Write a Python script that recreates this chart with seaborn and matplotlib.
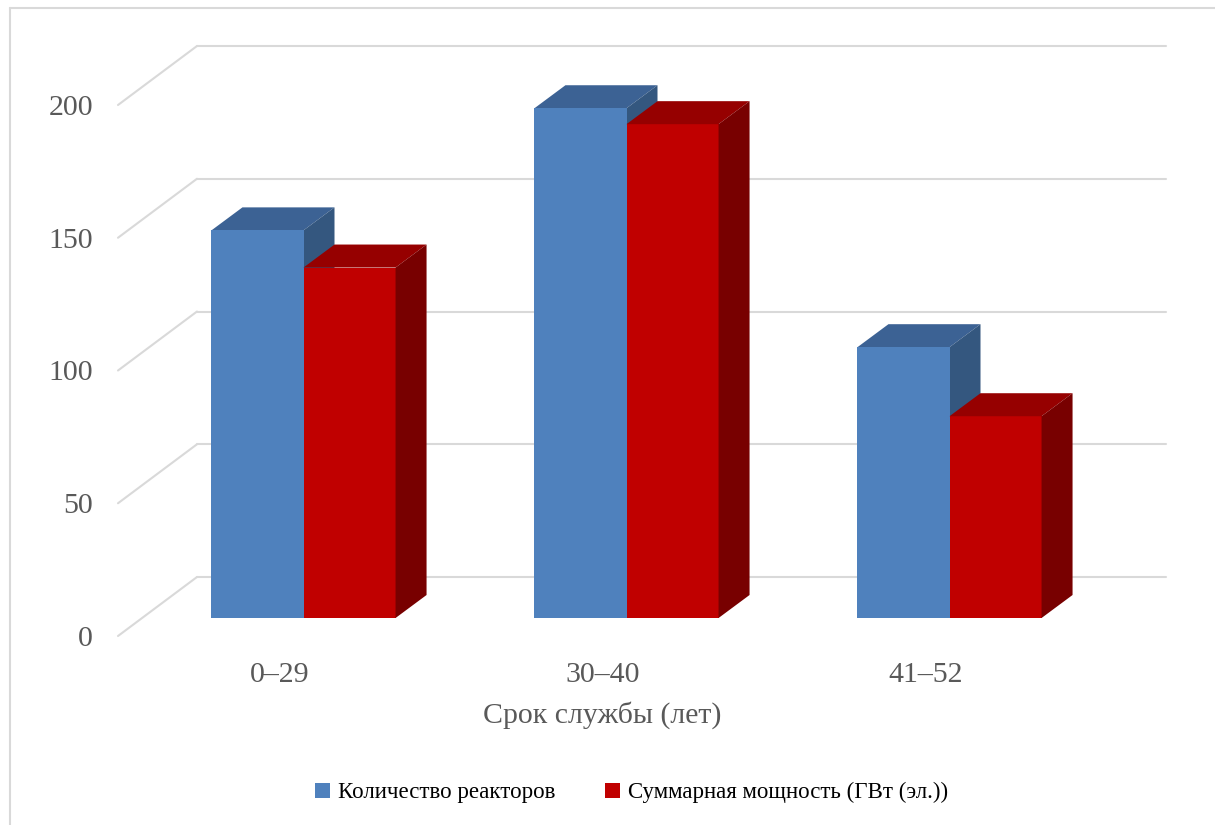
import pandas as pd
import matplotlib
matplotlib.use("Agg")
import matplotlib.pyplot as plt
import matplotlib.transforms as mtransforms
from matplotlib.patches import Polygon, Patch
from matplotlib.lines import Line2D
import seaborn as sns

# data
categories = ["0–29", "30–40", "41–52"]
reactors = [146, 192, 102]
power = [132, 186, 76]
series_names = ["Количество реакторов", "Суммарная мощность (ГВт (эл.))"]
yticks = [0, 50, 100, 150, 200]

colors_front = ["#4f81bd", "#c00000"]
colors_top = ["#3c6294", "#960000"]
colors_side = ["#34577f", "#780000"]

df = pd.DataFrame({
    "cat": categories * 2,
    "val": reactors + power,
    "series": [series_names[0]] * len(categories) + [series_names[1]] * len(categories),
})

sns.set_theme(style="white")
plt.rcParams["font.family"] = ["Liberation Serif", "DejaVu Serif"]

W, H = 1215, 825
fig = plt.figure(figsize=(W / 100, H / 100), dpi=100)
# axes = front plane of the 3d floor
ax = fig.add_axes([118 / W, 1 - 636 / H, 969 / W, 531 / H])

sns.barplot(data=df, x="cat", y="val", hue="series", palette=colors_front,
            width=0.57, saturation=1, errorbar=None, legend=False,
            linewidth=0, ax=ax)

ax.set_xlim(-0.5, 2.5)
ax.set_ylim(0, 200)
ax.set_autoscale_on(False)

# pixel offsets of the fake 3d
to_bars = (24, 18)   # front plane -> bar front faces
depth = (31, 23)     # bar depth
to_back = (79, 59)   # front plane -> back wall

bar_tr = mtransforms.offset_copy(ax.transData, fig=fig, x=to_bars[0], y=to_bars[1], units="dots")
back_tr = mtransforms.offset_copy(ax.transData, fig=fig, x=to_back[0], y=to_back[1], units="dots")
ident = mtransforms.IdentityTransform()

# back wall grid + diagonals on the left wall
for v in yticks:
    ax.plot([-0.5, 2.5], [v, v], color="#d9d9d9", lw=1.5, transform=back_tr,
            zorder=0.5, clip_on=False)
    x0, y0 = ax.transData.transform((-0.5, v))
    ax.add_line(Line2D([x0, x0 + to_back[0]], [y0, y0 + to_back[1]], color="#d9d9d9",
                       lw=1.5, transform=ident, zorder=0.5, clip_on=False))

# shift bars back and add top / side faces
for p in list(ax.patches):
    fc = matplotlib.colors.to_hex(p.get_facecolor())
    k = 0 if fc == colors_front[0] else 1
    p.set_transform(bar_tr)
    p.set_zorder(2)
    p.set_clip_on(False)
    xa, ya = ax.transData.transform((p.get_x(), p.get_y()))
    xb, yb = ax.transData.transform((p.get_x() + p.get_width(), p.get_y() + p.get_height()))
    xa += to_bars[0]; xb += to_bars[0]
    ya += to_bars[1]; yb += to_bars[1]
    dx, dy = depth
    top = [(xa, yb), (xb, yb), (xb + dx, yb + dy), (xa + dx, yb + dy)]
    side = [(xb, ya), (xb, yb), (xb + dx, yb + dy), (xb + dx, ya + dy)]
    z = 1.5 if k == 0 else 2.5
    ax.add_patch(Polygon(top, closed=True, facecolor=colors_top[k], edgecolor="none",
                         transform=ident, zorder=z, clip_on=False))
    ax.add_patch(Polygon(side, closed=True, facecolor=colors_side[k], edgecolor="none",
                         transform=ident, zorder=z, clip_on=False))

ax.set_yticks(yticks)
for s in ax.spines.values():
    s.set_visible(False)
ax.tick_params(axis="y", length=0, pad=18, labelsize=21.5, labelcolor="#595959")
ax.tick_params(axis="x", length=0, pad=19, labelsize=21.5, labelcolor="#595959")
ax.set_ylabel("")
ax.set_xlabel("Срок службы (лет)", fontsize=21.5, color="#595959", labelpad=9.5)

handles = [Patch(facecolor=c, edgecolor="none") for c in colors_front]
fig.legend(handles, series_names, loc="center", bbox_to_anchor=(0.52, 0.039), ncol=2,
           frameon=False, fontsize=16.5, labelcolor="black", handlelength=0.655,
           handleheight=0.655, handletextpad=0.35, columnspacing=2.18)

# chart frame (only top and left visible in the crop)
fig.add_artist(Line2D([9.5 / W, 9.5 / W], [0, 1 - 8 / H], transform=fig.transFigure,
                      color="#d9d9d9", lw=1.5))
fig.add_artist(Line2D([9.5 / W, 1], [1 - 8 / H, 1 - 8 / H], transform=fig.transFigure,
                      color="#d9d9d9", lw=1.5))

fig.savefig("out.png", dpi=100)
